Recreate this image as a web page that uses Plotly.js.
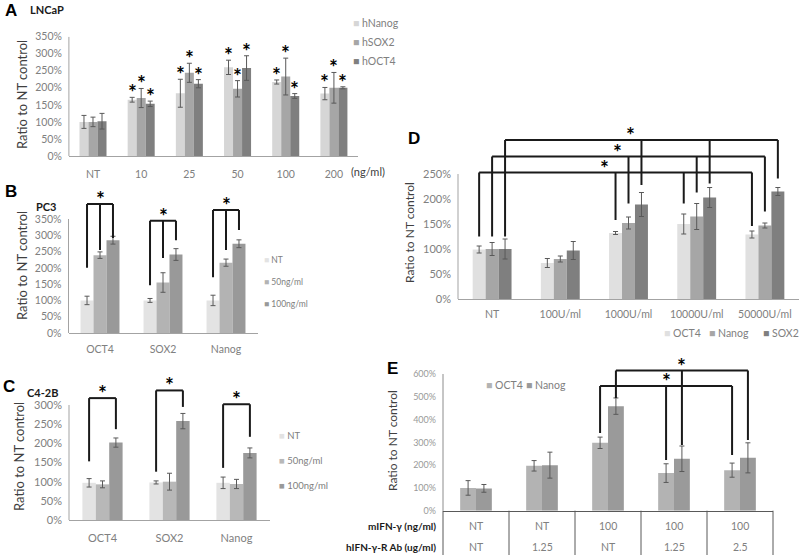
<!DOCTYPE html>
<html>
<head>
<meta charset="utf-8">
<script src="https://cdn.plot.ly/plotly-3.0.1.min.js"></script>
<style>
  html, body { margin: 0; padding: 0; background: #fff; }
  #fig { width: 800px; height: 555px; }
</style>
</head>
<body>
<div id="fig"></div>
<script>
// ---- A: LNCaP, dose response (ng/ml)
const catA = ["NT", "10", "25", "50", "100", "200"];
const seriesA = ["hNanog", "hSOX2", "hOCT4"];
const nanogA = [100, 165, 184, 260, 217, 183];
const nanogAErr = [19, 7, 41, 21, 6, 18];
const sox2A = [100, 170, 244, 197, 233, 200];
const sox2AErr = [14, 28, 28, 24, 54, 45];
const oct4A = [102, 153, 212, 258, 176, 200];
const oct4AErr = [23, 8, 12, 36, 7, 3];
const sigA = [false, true, true, true, true, true];

// ---- B: PC3
const catB = ["OCT4", "SOX2", "Nanog"];
const seriesB = ["NT", "50ng/ml", "100ng/ml"];
const ntB = [100, 100, 100];
const ntBErr = [13, 6, 16];
const lowB = [239, 155, 216];
const lowBErr = [10, 30, 11];
const highB = [285, 241, 274];
const highBErr = [12, 18, 12];
const bracketTopB = [396, 345, 378];
const bracketLegsB = [[200, 255, 292], [147, 230, 285], [171, 255, 316]];

// ---- C: C4-2B
const catC = ["OCT4", "SOX2", "Nanog"];
const seriesC = ["NT", "50ng/ml", "100ng/ml"];
const ntC = [97, 98, 97];
const ntCErr = [11, 4, 15];
const lowC = [93, 100, 94];
const lowCErr = [9, 22, 12];
const highC = [202, 258, 175];
const highCErr = [12, 20, 13];
const bracketTopC = [318, 338, 302];
const bracketLegsC = [[153, 237], [126, 295], [136, 217]];

// ---- D: IFN dose (U/ml)
const catD = ["NT", "100U/ml", "1000U/ml", "10000U/ml", "50000U/ml"];
const seriesD = ["OCT4", "Nanog", "SOX2"];
const oct4D = [99, 72, 132, 150, 129];
const oct4DErr = [7, 9, 3, 20, 7];
const nanogD = [100, 80, 152, 165, 147];
const nanogDErr = [13, 6, 12, 26, 5];
const sox2D = [100, 97, 189, 203, 215];
const sox2DErr = [20, 18, 24, 20, 8];
const bracketCatsD = [0, 2, 3, 4];
const bracketTopD = [253, 285, 318];
const bracketLegsD = [[125, 158, 191, 146], [125, 191, 213, 175], [125, 228, 231, 241]];

// ---- E: mIFN-γ with blocking antibody
const mifnE = ["NT", "NT", "100", "100", "100"];
const abE = ["NT", "1.25", "NT", "1.25", "2.5"];
const seriesE = ["OCT4", "Nanog"];
const oct4E = [100, 197, 298, 165, 178];
const oct4EErr = [32, 23, 25, 41, 31];
const nanogE = [98, 200, 459, 228, 232];
const nanogEErr = [17, 57, 36, 56, 66];
const bracketCatsE = [2, 3, 4];
const bracketTopE = [547, 615];
const bracketLegsE = [[341, 223, 245], [495, 288, 310]];

const FONT = "Lato, 'Open Sans', sans-serif";
const TICK = "#808080";
const TITLE = "#404040";
const AXIS = "#a3a3a3";
const ERR = "#595959";
const INK = "#1a1a1a";
const W = 800, H = 555;
const px = (x) => x / W;
const py = (y) => 1 - y / H;

function bars(cats, vals, errs, name, color, xa, ya, width, offset) {
  return {
    type: "bar", x: cats, y: vals, name, xaxis: xa, yaxis: ya,
    width, offset,
    marker: { color, line: { width: 0 } },
    error_y: { type: "data", array: errs, visible: true, color: ERR, thickness: 1, width: 2.5 },
    showlegend: false, hoverinfo: "skip",
  };
}

function xAxis(x0, x1, n, anchor, extra) {
  return {
    domain: [px(x0), px(x1)], range: [-0.5, n - 0.5], type: "category", anchor,
    showline: true, linecolor: AXIS, linewidth: 1, ticks: "", showgrid: false, zeroline: false,
    tickfont: { family: FONT, size: 10.5, color: TICK }, fixedrange: true,
    ...extra,
  };
}

// zero line pixel, pixels per percent, range max
function yAxis(zero, per, max, step, last, anchor, extra) {
  const vals = [];
  for (let v = 0; v <= last; v += step) vals.push(v);
  return {
    domain: [py(zero), py(zero - per * max)], range: [0, max], anchor,
    tickvals: vals, ticktext: vals.map((v) => v + "%"), ticks: "", ticklabelstandoff: 6,
    showline: false, showgrid: false, zeroline: false,
    tickfont: { family: FONT, size: 10.5, color: TICK }, fixedrange: true,
    ...extra,
  };
}

function yLine(xa, ya, top, color) {
  return { type: "line", xref: xa + " domain", yref: ya, x0: 0, x1: 0, y0: 0, y1: top,
    line: { color, width: 1 } };
}

function bracket(xa, ya, xs, top, bottoms) {
  const line = { color: INK, width: 2 };
  const s = [{ type: "line", xref: xa, yref: ya, x0: xs[0], x1: xs[xs.length - 1], y0: top, y1: top, line }];
  xs.forEach((x, i) => s.push({ type: "line", xref: xa, yref: ya, x0: x, x1: x, y0: bottoms[i], y1: top, line }));
  return s;
}

function star(xa, ya, x, y, xshift) {
  return {
    xref: xa, yref: ya, x, y, text: "*", showarrow: false,
    xanchor: "center", yanchor: "bottom", yshift: -9, xshift: xshift || 0,
    font: { family: FONT, size: 21, color: "#000", weight: "bold" },
  };
}

function label(x, y, text, size, opts) {
  return {
    xref: "paper", yref: "paper", x: px(x), y: py(y), text, showarrow: false,
    xanchor: "left", yanchor: "middle",
    font: { family: FONT, size, color: "#000" },
    ...opts,
  };
}

function panelLetter(x, y, text) {
  return label(x, y, text, 17, { font: { family: "'Liberation Sans', sans-serif", size: 17, color: "#000", weight: "bold" } });
}

function yTitle(x, y, size) {
  return label(x, y, "Ratio to NT control", size,
    { xanchor: "center", textangle: -90, font: { family: FONT, size, color: TITLE } });
}

function legendItem(x, y, name, color, size) {
  return label(x, y, `<span style="color:${color}">■</span> ${name}`, size,
    { font: { family: FONT, size, color: TICK } });
}

const traces = [];
const shapes = [];
const annotations = [];

// ---------- A
const colorsA = ["#d6d6d6", "#a6a6a6", "#7f7f7f"];
const wA = 0.187;
const valsA = [[nanogA, nanogAErr], [sox2A, sox2AErr], [oct4A, oct4AErr]];
valsA.forEach(([v, e], k) => {
  traces.push(bars(catA, v, e, seriesA[k], colorsA[k], "x", "y", wA, (k - 1.5) * wA));
  catA.forEach((c, i) => { if (sigA[i]) annotations.push(star("x", "y", i + (k - 1) * wA, v[i] + e[i])); });
  annotations.push(legendItem(351, 23 + 19 * k, seriesA[k], colorsA[k], 10.5));
});
shapes.push(yLine("x", "y", 350, AXIS));
annotations.push(panelLetter(3, 10, "A"));
annotations.push(label(28, 9, "LNCaP", 11, { font: { family: FONT, size: 11, color: INK, weight: "bold" } }));
annotations.push(label(349, 172, "(ng/ml)", 11, { font: { family: FONT, size: 11, color: TITLE } }));
annotations.push(yTitle(22, 95, 13));

// ---------- B
const colorsB = ["#e3e3e3", "#b3b3b3", "#999999"];
const wB = 0.206;
[[ntB, ntBErr], [lowB, lowBErr], [highB, highBErr]].forEach(([v, e], k) => {
  traces.push(bars(catB, v, e, seriesB[k], colorsB[k], "x2", "y2", wB, (k - 1.5) * wB));
  annotations.push(legendItem(262, 260 + 22 * k, seriesB[k], colorsB[k], 8.5));
});
catB.forEach((c, i) => {
  const xs = [0, 1, 2].map((k) => i + (k - 1) * wB);
  shapes.push(...bracket("x2", "y2", xs, bracketTopB[i], bracketLegsB[i]));
  annotations.push(star("x2", "y2", i, bracketTopB[i]));
});
shapes.push(yLine("x2", "y2", 350, AXIS));
annotations.push(panelLetter(3, 191, "B"));
annotations.push(label(34, 206, "PC3", 11, { font: { family: FONT, size: 11, color: INK, weight: "bold" } }));
annotations.push(yTitle(22, 266, 13));

// ---------- C
const colorsC = ["#e3e3e3", "#b8b8b8", "#999999"];
const wC = 0.2;
[[ntC, ntCErr], [lowC, lowCErr], [highC, highCErr]].forEach(([v, e], k) => {
  traces.push(bars(catC, v, e, seriesC[k], colorsC[k], "x3", "y3", wC, (k - 1.5) * wC));
  annotations.push(legendItem(277, 435 + 25 * k, seriesC[k], colorsC[k], 9.5));
});
catC.forEach((c, i) => {
  const xs = [0, 2].map((k) => i + (k - 1) * wC);
  shapes.push(...bracket("x3", "y3", xs, bracketTopC[i], bracketLegsC[i]));
  annotations.push(star("x3", "y3", i, bracketTopC[i]));
});
shapes.push(yLine("x3", "y3", 300, AXIS));
annotations.push(panelLetter(1, 386, "C"));
annotations.push(label(25, 392, "C4-2B", 11, { font: { family: FONT, size: 11, color: INK, weight: "bold" } }));
annotations.push(yTitle(19, 457, 13));

// ---------- D
const colorsD = ["#e0e0e0", "#a6a6a6", "#7f7f7f"];
const wD = 0.19;
const legendXD = [662, 707, 761];
[[oct4D, oct4DErr], [nanogD, nanogDErr], [sox2D, sox2DErr]].forEach(([v, e], k) => {
  traces.push(bars(catD, v, e, seriesD[k], colorsD[k], "x4", "y4", wD, (k - 1.5) * wD));
  annotations.push(legendItem(legendXD[k], 333, seriesD[k], colorsD[k], 10.5));
  const xs = bracketCatsD.map((i) => i + (k - 1) * wD);
  shapes.push(...bracket("x4", "y4", xs, bracketTopD[k], bracketLegsD[k]));
  annotations.push(star("x4", "y4", xs[1], bracketTopD[k], -11));
});
shapes.push(yLine("x4", "y4", 250, AXIS));
annotations.push(panelLetter(406, 138, "D"));
annotations.push(yTitle(410, 232, 12));

// ---------- E
const catE = mifnE.map((m, i) => m + " / " + abE[i]);
const colorsE = ["#b3b3b3", "#9a9a9a"];
const wE = 0.24;
const legendXE = [484, 524];
[[oct4E, oct4EErr], [nanogE, nanogEErr]].forEach(([v, e], k) => {
  traces.push(bars(catE, v, e, seriesE[k], colorsE[k], "x5", "y5", wE, (k - 1) * wE));
  annotations.push(legendItem(legendXE[k], 385, seriesE[k], colorsE[k], 10.5));
  const xs = bracketCatsE.map((i) => i + (k - 0.5) * wE);
  shapes.push(...bracket("x5", "y5", xs, bracketTopE[k], bracketLegsE[k]));
  annotations.push(star("x5", "y5", xs[1], bracketTopE[k]));
});
shapes.push(yLine("x5", "y5", 600, "#8c8c8c"));
// table under the axis: one column per condition
const TABLE = "#595959";
const zeroE = 510.7;
shapes.push({ type: "line", xref: "x5 domain", yref: "paper", x0: 0, x1: 0, y0: 0, y1: py(zeroE), line: { color: TABLE, width: 1 } });
shapes.push({ type: "line", xref: "x5 domain", yref: "paper", x0: 1, x1: 1, y0: 0, y1: py(zeroE), line: { color: TABLE, width: 1 } });
for (let i = 1; i < catE.length; i++) {
  shapes.push({ type: "line", xref: "x5", yref: "paper", x0: i - 0.5, x1: i - 0.5, y0: 0, y1: py(zeroE), line: { color: TABLE, width: 1 } });
}
catE.forEach((c, i) => {
  [mifnE[i], abE[i]].forEach((t, r) => annotations.push({
    xref: "x5", yref: "paper", x: i, y: py(r ? 546.5 : 526), text: t, showarrow: false,
    xanchor: "center", yanchor: "middle", font: { family: FONT, size: 10.5, color: TICK },
  }));
});
annotations.push(label(438, 526, "mIFN-γ (ng/ml)", 10, { xanchor: "right", font: { family: FONT, size: 10, color: INK, weight: "bold" } }));
annotations.push(label(438, 546.5, "hIFN-γ-R Ab (ug/ml)", 10, { xanchor: "right", font: { family: FONT, size: 10, color: INK, weight: "bold" } }));
annotations.push(panelLetter(385, 368, "E"));
annotations.push(yTitle(392, 441, 12));

const layout = {
  width: W, height: H,
  margin: { l: 0, r: 0, t: 0, b: 0 },
  paper_bgcolor: "#fff", plot_bgcolor: "#fff",
  barmode: "overlay", showlegend: false, hovermode: false,
  font: { family: FONT, color: TICK },
  xaxis: xAxis(68.9, 358, catA.length, "y", { ticklabelstandoff: 8 }),
  yaxis: yAxis(156, 0.341, 350, 50, 350, "x"),
  xaxis2: xAxis(68.5, 257.5, catB.length, "y2", { ticklabelstandoff: 6 }),
  yaxis2: yAxis(333, 0.3257, 420, 50, 350, "x2"),
  xaxis3: xAxis(69, 270, catC.length, "y3", { ticklabelstandoff: 8, tickfont: { family: FONT, size: 11, color: TICK } }),
  yaxis3: yAxis(520, 0.3833, 360, 50, 300, "x3", { tickfont: { family: FONT, size: 11, color: TICK } }),
  xaxis4: xAxis(458, 799, catD.length, "y4", { ticklabelstandoff: 5, tickfont: { family: FONT, size: 10.5, color: TICK } }),
  yaxis4: yAxis(299, 0.5, 330, 50, 250, "x4", { tickfont: { family: FONT, size: 11, color: TICK } }),
  xaxis5: xAxis(443, 773, catE.length, "y5", { showticklabels: false, linecolor: TABLE }),
  yaxis5: yAxis(zeroE, 0.2278, 640, 100, 600, "x5", { tickfont: { family: FONT, size: 9, color: "#999" } }),
  shapes, annotations,
};

Plotly.newPlot("fig", traces, layout, { displayModeBar: false, staticPlot: true });
</script>
</body>
</html>
